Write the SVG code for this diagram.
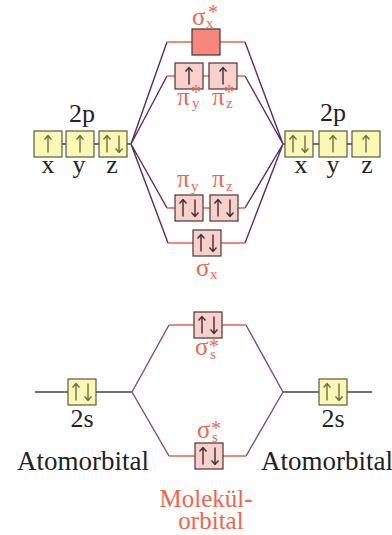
<svg xmlns="http://www.w3.org/2000/svg" width="392" height="535" viewBox="0 0 392 535" font-family="'Liberation Serif','DejaVu Serif',serif">
<style>
text{font-family:"Liberation Serif","DejaVu Serif",serif}
.lbl{font-size:26px;fill:#222;text-anchor:middle}
.gr{font-size:25px;fill:#f2634f}
.sub{font-size:15px}
.st{font-size:20px}
.red{fill:#f2634f}
.by{fill:#fbf7b4;stroke:#5a5a3e;stroke-width:1.2}
.bp{fill:#f9d0cb;stroke:#4a3434;stroke-width:1.2}
.bs{fill:#f7877c;stroke:#4a3434;stroke-width:1.2}
.ay{fill:none;stroke:#6e6e45;stroke-width:1.4}
.ap{fill:none;stroke:#3d3030;stroke-width:1.4}
.mo{stroke:#f0604c;stroke-width:1.4;fill:none}
.ao{stroke:#444;stroke-width:1.4;fill:none}
.dg{stroke:#5e2a5a;stroke-width:1.4;fill:none}
.dg2{stroke:#7b4b7e;stroke-width:1.4;fill:none}
</style>
<defs>
<path id="up" d="M0,8.5V-8.5M-3.5,-4.5L0,-8.5L3.5,-4.5"/>
<path id="dn" d="M0,-8.5V8.5M-3.5,4.5L0,8.5L3.5,4.5"/>
</defs>
<g id="connectors">
<path class="ao" d="M62,144H66M94,144H99M127,144H131"/>
<path class="ao" d="M313,144H319M347,144H352M283,144H285"/>
<path class="dg" d="M131,144L167,42M131,144L167,76M131,144L167,208M131,144L168,243"/>
<path class="dg" d="M283,144L245,42M283,144L245,76M283,144L245,208M283,144L245,243"/>
<path class="mo" d="M167,42H245M167,76H245M167,208H245M168,243H245"/>
<path class="ao" d="M35,392H132M283,392H372"/>
<path class="dg2" d="M132,392L169,325M132,392L169,456M283,392L246,325M283,392L246,456"/>
<path class="mo" d="M169,325H246M169,456H246"/>
</g>
<g id="ao-2p-left">
<text class="lbl" x="82" y="122">2p</text>
<rect class="by" x="34" y="131" width="28" height="26"/>
<use href="#up" class="ay" x="48" y="144"/>
<rect class="by" x="66" y="131" width="28" height="26"/>
<use href="#up" class="ay" x="80" y="144"/>
<rect class="by" x="99" y="131" width="28" height="26"/>
<use href="#up" class="ay" x="107" y="144"/>
<use href="#dn" class="ay" x="119" y="144"/>
<text class="lbl" x="48" y="173">x</text>
<text class="lbl" x="79" y="173">y</text>
<text class="lbl" x="112" y="173">z</text>
</g>
<g id="ao-2p-right">
<text class="lbl" x="333" y="121">2p</text>
<rect class="by" x="285" y="131" width="28" height="26"/>
<use href="#up" class="ay" x="293" y="144"/>
<use href="#dn" class="ay" x="305" y="144"/>
<rect class="by" x="319" y="131" width="28" height="26"/>
<use href="#up" class="ay" x="333" y="144"/>
<rect class="by" x="352" y="131" width="28" height="26"/>
<use href="#up" class="ay" x="366" y="144"/>
<text class="lbl" x="301" y="173">x</text>
<text class="lbl" x="333" y="173">y</text>
<text class="lbl" x="367" y="173">z</text>
</g>
<g id="mo-sigma-x-star">
<text class="gr" x="192" y="25">σ<tspan class="sub" x="206" y="28">x</tspan><tspan class="st" x="208" y="19">*</tspan></text>
<rect class="bs" x="192" y="29" width="28" height="26"/>
</g>
<g id="mo-pi-star">
<rect class="bp" x="175" y="63" width="28" height="26"/>
<use href="#up" class="ap" x="189" y="76"/>
<rect class="bp" x="209" y="63" width="28" height="26"/>
<use href="#up" class="ap" x="223" y="76"/>
<text class="gr" x="177" y="105">π<tspan class="sub" x="192" y="108">y</tspan><tspan class="st" x="191" y="99">*</tspan></text>
<text class="gr" x="212" y="105">π<tspan class="sub" x="226" y="108">z</tspan><tspan class="st" x="224" y="99">*</tspan></text>
</g>
<g id="mo-pi">
<text class="gr" x="177" y="187">π<tspan class="sub" x="191" y="191">y</tspan></text>
<text class="gr" x="212" y="187">π<tspan class="sub" x="226" y="191">z</tspan></text>
<rect class="bp" x="175" y="195" width="28" height="26"/>
<use href="#up" class="ap" x="183" y="208"/>
<use href="#dn" class="ap" x="195" y="208"/>
<rect class="bp" x="210" y="195" width="28" height="26"/>
<use href="#up" class="ap" x="218" y="208"/>
<use href="#dn" class="ap" x="230" y="208"/>
</g>
<g id="mo-sigma-x">
<rect class="bp" x="193" y="230" width="28" height="26"/>
<use href="#up" class="ap" x="201" y="243"/>
<use href="#dn" class="ap" x="213" y="243"/>
<text class="gr" x="196" y="276">σ<tspan class="sub" x="210" y="279">x</tspan></text>
</g>
<g id="mo-sigma-s-star">
<rect class="bp" x="194" y="312" width="28" height="26"/>
<use href="#up" class="ap" x="202" y="325"/>
<use href="#dn" class="ap" x="214" y="325"/>
<text class="gr" x="195" y="355">σ<tspan class="sub" x="210" y="359">s</tspan><tspan class="st" x="209" y="353">*</tspan></text>
</g>
<g id="mo-sigma-s">
<text class="gr" x="197" y="438">σ<tspan class="sub" x="212" y="442">s</tspan><tspan class="st" x="211" y="435">*</tspan></text>
<rect class="bp" x="195" y="443" width="28" height="26"/>
<use href="#up" class="ap" x="203" y="456"/>
<use href="#dn" class="ap" x="215" y="456"/>
</g>
<g id="ao-2s-left">
<rect class="by" x="68" y="379" width="28" height="26"/>
<use href="#up" class="ay" x="76" y="392"/>
<use href="#dn" class="ay" x="88" y="392"/>
<text class="lbl" x="82" y="427">2s</text>
</g>
<g id="ao-2s-right">
<rect class="by" x="319" y="379" width="28" height="26"/>
<use href="#up" class="ay" x="327" y="392"/>
<use href="#dn" class="ay" x="339" y="392"/>
<text class="lbl" x="333" y="427">2s</text>
</g>
<g id="captions">
<text class="lbl" x="83" y="470" style="font-size:27px">Atomorbital</text>
<text class="lbl" x="327" y="470" style="font-size:27px">Atomorbital</text>
<text class="lbl red" x="206" y="507" style="font-size:25px">Molekül-<tspan x="211" y="529">orbital</tspan></text>
</g>
</svg>
